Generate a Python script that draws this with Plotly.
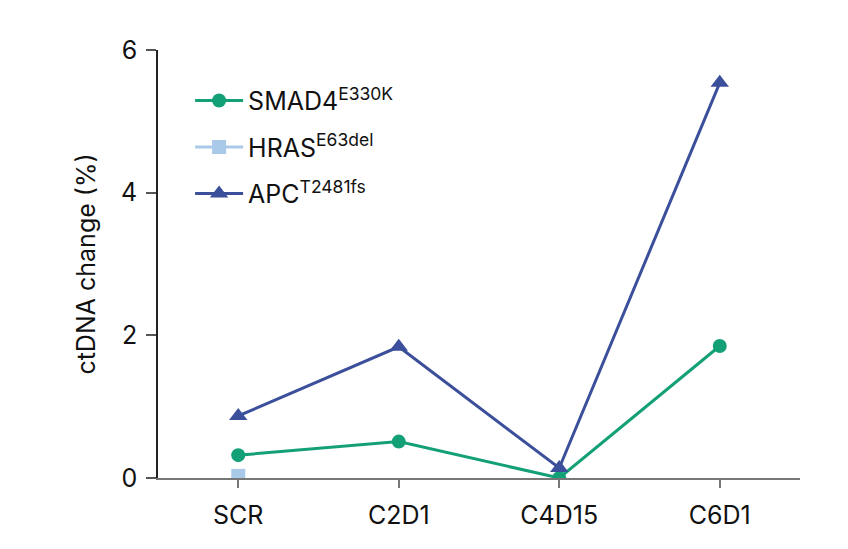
import plotly.graph_objects as go

# Time points
visits = ["SCR", "C2D1", "C4D15", "C6D1"]

# ctDNA change (%)
smad4 = [0.32, 0.51, 0.0, 1.85]
hras = [0.03]
apc = [0.87, 1.84, 0.14, 5.54]

green = "#14a077"
light_blue = "#a9c9e9"
navy = "#3b4f9b"

fig = go.Figure()

fig.add_trace(go.Scatter(
    x=visits, y=smad4, mode="lines+markers", name="SMAD4<sup>E330K</sup>",
    line=dict(color=green, width=3),
    marker=dict(symbol="circle", size=14, color=green),
    legendgroup="a",
))
fig.add_trace(go.Scatter(
    x=visits[:1], y=hras, mode="lines+markers", name="HRAS<sup>E63del</sup>",
    line=dict(color=light_blue, width=3),
    marker=dict(symbol="square", size=14, color=light_blue),
    legendgroup="b",
))
fig.add_trace(go.Scatter(
    x=visits, y=apc, mode="lines+markers", name="APC<sup>T2481fs</sup>",
    line=dict(color=navy, width=3),
    marker=dict(symbol="triangle-up", size=16, color=navy),
    legendgroup="c",
))

fig.update_layout(
    width=840, height=541,
    margin=dict(l=150, r=48, t=42, b=71),
    paper_bgcolor="white", plot_bgcolor="white",
    font=dict(family="Inter, Roboto, sans-serif", size=25, color="#111"),
    showlegend=True,
    legend=dict(
        x=0.05, y=0.935, xanchor="left", yanchor="top",
        bgcolor="rgba(0,0,0,0)", font=dict(size=25),
        traceorder="grouped", tracegroupgap=11, itemwidth=48,
    ),
    xaxis=dict(
        range=[-0.5, 3.5], showgrid=False, zeroline=False,
        showline=True, linecolor="#777", linewidth=2,
        ticks="outside", ticklen=8, tickcolor="#777", tickwidth=1.5,
        ticklabelstandoff=6, tickfont=dict(size=25),
    ),
    yaxis=dict(
        range=[0, 6], tickvals=[0, 2, 4, 6], showgrid=False, zeroline=False,
        showline=True, linecolor="#222", linewidth=1.5,
        ticks="outside", ticklen=10, tickcolor="#555", tickwidth=1.5,
        ticklabelstandoff=4, tickfont=dict(size=25),
        title=dict(text="ctDNA change (%)", font=dict(size=25), standoff=18),
    ),
)

fig.write_html("out.html")
